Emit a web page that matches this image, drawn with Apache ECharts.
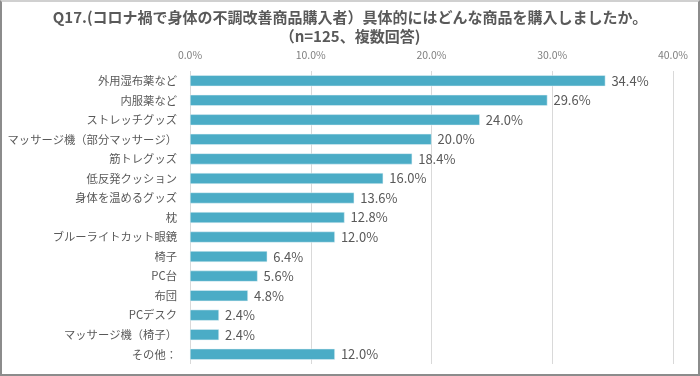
<!DOCTYPE html>
<html>
<head>
<meta charset="utf-8">
<script src="https://cdn.jsdelivr.net/npm/echarts@6/dist/echarts.min.js"></script>
<style>
  html, body { margin: 0; padding: 0; background: #fff; }
  #frame { width: 700px; height: 376px; box-sizing: border-box; border: 2px solid #8c8c8c; border-top-color: #d0d0d0; position: relative; }
  #chart { position: absolute; left: -2px; top: -2px; width: 700px; height: 376px; }
</style>
</head>
<body>
<div id="frame"><div id="chart"></div></div>
<script>
// 項目（上から順）
const categories = [
  '外用湿布薬など', '内服薬など', 'ストレッチグッズ', 'マッサージ機（部分マッサージ）',
  '筋トレグッズ', '低反発クッション', '身体を温めるグッズ', '枕',
  'ブルーライトカット眼鏡', '椅子', 'PC台', '布団', 'PCデスク', 'マッサージ機（椅子）', 'その他：'
];
// 回答率（%）
const values = [34.4, 29.6, 24.0, 20.0, 18.4, 16.0, 13.6, 12.8, 12.0, 6.4, 5.6, 4.8, 2.4, 2.4, 12.0];
const xTicks = [0, 10, 20, 30, 40];

const FONT = '"Noto Sans CJK JP", "Noto Sans", sans-serif';
const chart = echarts.init(document.getElementById('chart'));

chart.setOption({
  animation: false,
  title: {
    text: 'Q17.(コロナ禍で身体の不調改善商品購入者）具体的にはどんな商品を購入しましたか。\n（n=125、複数回答)',
    left: 'center',
    top: 3,
    textStyle: {
      fontFamily: FONT,
      fontSize: 15,
      fontWeight: 'bold',
      color: '#595959',
      lineHeight: 19
    }
  },
  grid: { left: 190, right: 27, top: 71, bottom: 12 },
  xAxis: {
    type: 'value',
    position: 'top',
    min: xTicks[0],
    max: xTicks[xTicks.length - 1],
    interval: 10,
    axisLine: { show: false },
    axisTick: { show: false },
    axisLabel: {
      margin: 11,
      color: '#7f7f7f',
      fontSize: 10.5,
      fontFamily: FONT,
      formatter: v => v.toFixed(1) + '%'
    },
    splitLine: { show: true, lineStyle: { color: '#d9d9d9', width: 1 } }
  },
  yAxis: {
    type: 'category',
    inverse: true,
    data: categories,
    axisLine: { show: false },
    axisTick: { show: false },
    axisLabel: {
      margin: 13,
      color: '#595959',
      fontSize: 11.3,
      fontFamily: FONT
    }
  },
  series: [{
    type: 'bar',
    data: values,
    barWidth: 11,
    itemStyle: { color: '#4bacc6', borderColor: '#e6f3f7', borderWidth: 0.5 },
    label: {
      show: true,
      position: 'right',
      distance: 6,
      color: '#595959',
      fontSize: 13,
      fontFamily: FONT,
      formatter: p => p.value.toFixed(1) + '%'
    }
  }]
});
</script>
</body>
</html>
